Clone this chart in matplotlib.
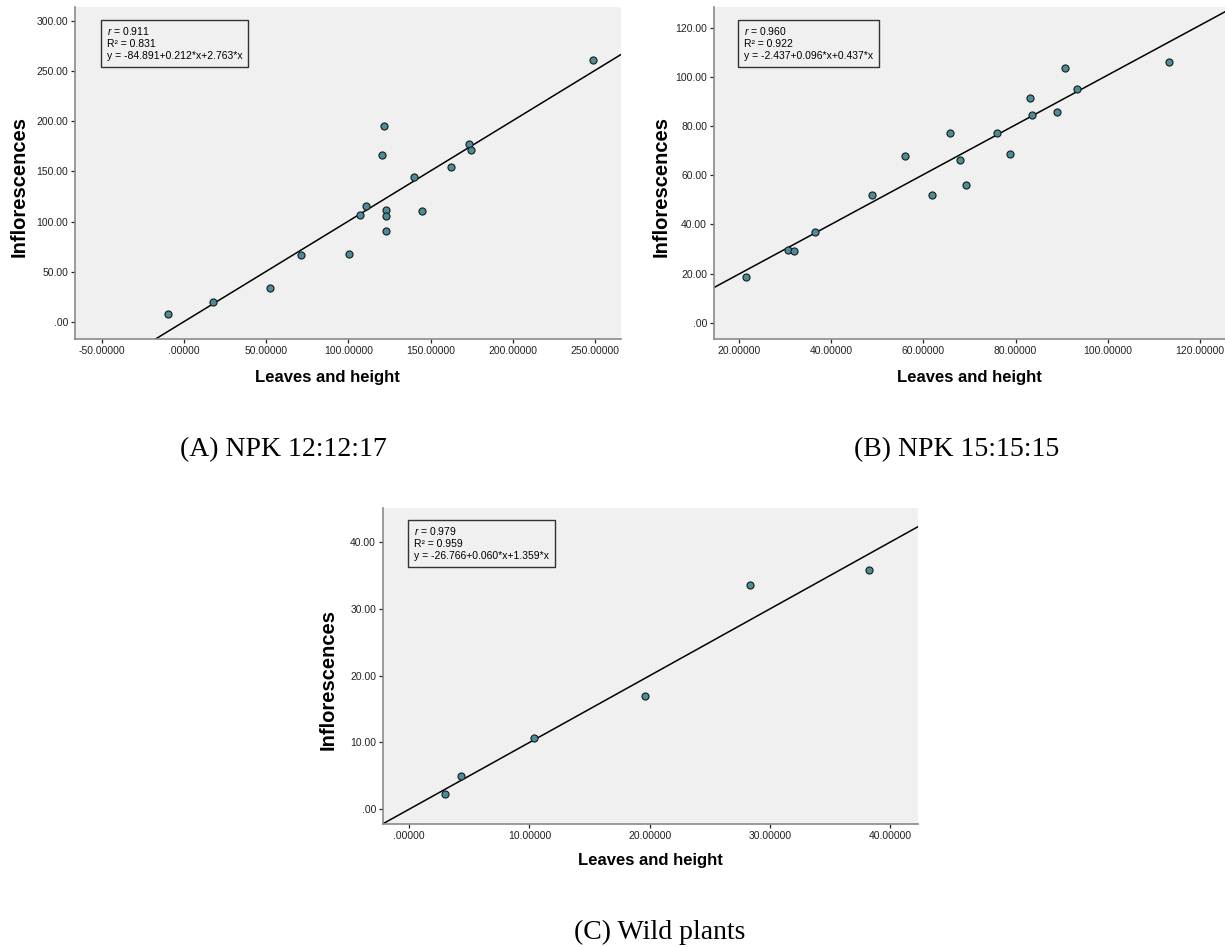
import numpy as np
import matplotlib
matplotlib.use('Agg')
import matplotlib.pyplot as plt

plt.rcParams['font.family'] = ['Liberation Sans', 'DejaVu Sans']
plt.rcParams['mathtext.fontset'] = 'custom'
plt.rcParams['mathtext.it'] = 'Liberation Sans:italic'
plt.rcParams['mathtext.rm'] = 'Liberation Sans'

# (A) NPK 12:12:17
a_x = [-9.6, 17.3, 52.1, 71.2, 100.1, 107.2, 110.6, 120.2, 121.6, 123.1, 123.1, 123.1,
       139.8, 144.9, 162.3, 173.3, 174.8, 249.0]
a_y = [7.6, 19.9, 33.5, 66.3, 67.6, 106.1, 116.0, 166.7, 195.2, 111.7, 105.1, 91.1,
       144.2, 110.4, 154.8, 177.7, 171.0, 260.9]
a_fit = (0.5, 1.0)   # intercept, slope of drawn line
a_stats = ['0.911', '0.831', '-84.891+0.212*x+2.763*x']

# (B) NPK 15:15:15
b_x = [21.5, 30.6, 31.8, 36.4, 48.9, 56.0, 61.9, 65.7, 67.9, 69.3, 75.9, 78.9,
       83.2, 83.5, 89.0, 90.7, 93.3, 113.4]
b_y = [18.5, 29.6, 29.1, 37.0, 51.8, 68.0, 52.1, 77.2, 66.3, 55.9, 77.1, 68.6,
       91.5, 84.6, 85.7, 103.4, 95.1, 106.1]
b_fit = (-0.3, 1.01)
b_stats = ['0.960', '0.922', '-2.437+0.096*x+0.437*x']

# (C) Wild plants
c_x = [3.0, 4.3, 10.4, 19.6, 28.3, 38.2]
c_y = [2.3, 5.0, 10.6, 16.9, 33.6, 35.8]
c_fit = (0.0, 1.0)
c_stats = ['0.979', '0.959', '-26.766+0.060*x+1.359*x']

captions = ['(A) NPK 12:12:17', '(B) NPK 15:15:15', '(C) Wild plants']


def spss_fmt(v, nd):
    s = f'{v:.{nd}f}'
    if s.startswith('0.'):
        s = s[1:]
    return s


def panel(ax, xs, ys, fit, stats, xlim, ylim, xt, yt, xlab_x):
    ax.set_facecolor('#f0f0f0')
    for sp in ['top', 'right']:
        ax.spines[sp].set_visible(False)
    for sp in ['left', 'bottom']:
        ax.spines[sp].set_color('#8a8a8a')
        ax.spines[sp].set_linewidth(1.2)
    ax.set_xlim(xlim)
    ax.set_ylim(ylim)
    xx = np.array(xlim)
    ax.plot(xx, fit[0] + fit[1] * xx, color='black', lw=1.1, zorder=2)
    ax.scatter(xs, ys, s=26, c='#4a8c99', edgecolors='#1a1a1a', linewidths=0.8, zorder=3)
    ax.set_xticks(xt)
    ax.set_yticks(yt)
    ax.set_xticklabels([spss_fmt(v, 5) for v in xt])
    ax.set_yticklabels([spss_fmt(v, 2) for v in yt])
    ax.tick_params(labelsize=7.5, length=3, width=0.9, color='#222222', labelcolor='#222222', pad=2)
    ax.set_xlabel('Leaves and height', fontsize=12, fontweight='bold', va='top')
    ax.set_ylabel('Inflorescences', fontsize=14.5, fontweight='bold', va='center')
    ax.xaxis.set_label_coords(xlab_x, -0.093)
    ax.yaxis.set_label_coords(-0.103, 0.458)
    txt = '$r$ = %s\nR\u00b2 = %s\ny = %s' % tuple(stats)
    ax.text(0.058, 0.945, txt, transform=ax.transAxes, fontsize=7.5, va='top', ha='left',
            linespacing=1.25,
            bbox=dict(boxstyle='square,pad=0.55', fc='none', ec='#333333', lw=1.0))


fig = plt.figure(figsize=(12.25, 9.47), dpi=100)
axA = fig.add_axes([0.0612, 0.642, 0.4457, 0.3506])
axB = fig.add_axes([0.5829, 0.642, 0.4171, 0.3506])
axC = fig.add_axes([0.3127, 0.1299, 0.4367, 0.3337])

panel(axA, a_x, a_y, a_fit, a_stats, (-66.4, 265.8), (-16.9, 313.6),
      np.arange(-50, 251, 50), np.arange(0, 301, 50), 0.4615)
panel(axB, b_x, b_y, b_fit, b_stats, (14.5, 125.5), (-6.6, 128.4),
      np.arange(20, 121, 20), np.arange(0, 121, 20), 0.5)
panel(axC, c_x, c_y, c_fit, c_stats, (-2.16, 42.3), (-2.2, 45.1),
      np.arange(0, 41, 10), np.arange(0, 41, 10), 0.5)

cap_font = ['Liberation Serif', 'DejaVu Serif']
fig.text(283 / 1225, 1 - 450 / 947, captions[0], fontsize=20, family=cap_font, ha='center', va='center')
fig.text(957 / 1225, 1 - 450 / 947, captions[1], fontsize=20, family=cap_font, ha='center', va='center')
fig.text(660 / 1225, 1 - 932 / 947, captions[2], fontsize=20, family=cap_font, ha='center', va='center')

fig.savefig('out.png', dpi=100)
